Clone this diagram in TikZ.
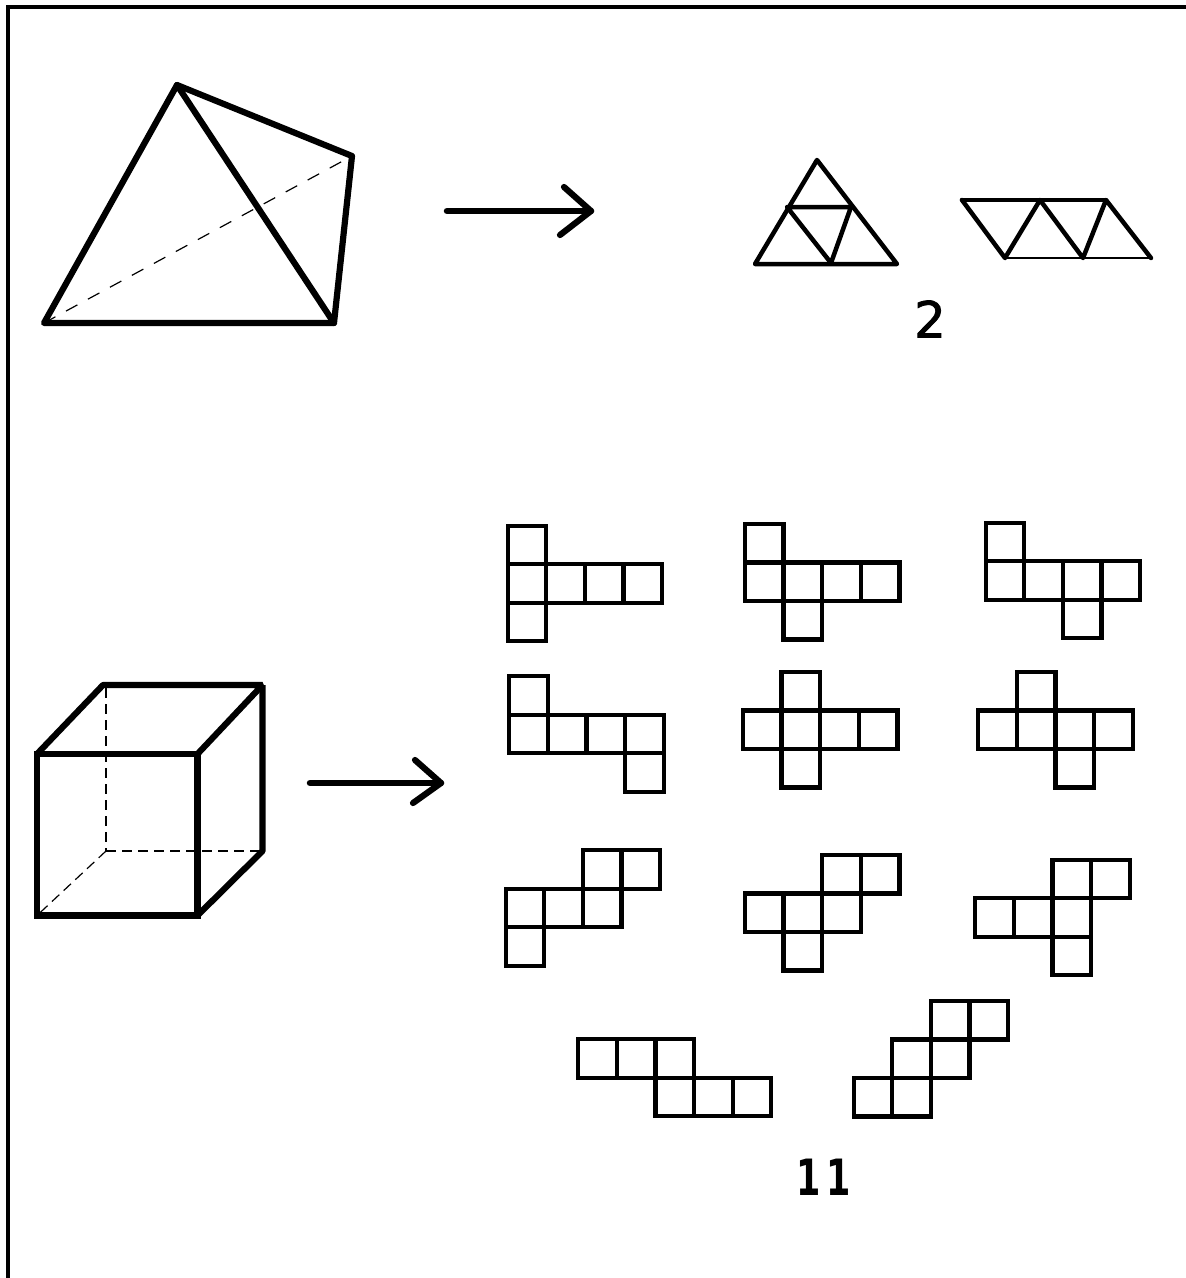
\documentclass[tikz,border=0pt]{standalone}
\usepackage{fontspec}
\setmainfont{DejaVu Sans}
\newfontfamily\heavytwo[FakeBold=1.6]{DejaVu Sans}
\newcommand{\netshape}[3]{%
  \foreach \c/\r in {#3} {
    \draw[netcell] ({#1+\c*38.6},{#2+\r*38.5}) rectangle ++(38.6,38.5);
  }}
\tikzset{
  border/.style={line width=4.4pt,line cap=butt},
  netcell/.style={line width=4.3pt,line join=miter},
  heavy/.style={line width=6.2pt,line cap=round,line join=round},
  medium/.style={line width=4.5pt,line cap=round,line join=round},
  thinbase/.style={line width=2.8pt},
  hidden/.style={line width=1.2pt,dash pattern=on 13pt off 12pt},
  hiddencube/.style={line width=1.2pt,dash pattern=on 10pt off 6pt},
  countbold/.style={font=\fontsize{50}{50}\selectfont\bfseries,inner sep=0pt,xscale=.7},
  countlight/.style={font=\fontsize{50}{50}\heavytwo,inner sep=0pt},
}
\begin{document}
\begin{tikzpicture}[x=1pt,y=-1pt]
\useasboundingbox (0,0) rectangle (1186,1278);
% page frame
\draw[border] (6,7) -- (1186,7);
\draw[border] (8,5) -- (8,1278);
% tetrahedron
\coordinate (tA) at (177,85);
\coordinate (tL) at (44,323);
\coordinate (tR) at (334,323);
\coordinate (tB) at (352,156);
\draw[hidden] (tL) -- (tB);
\draw[heavy] (tL) -- (tA) -- (tB) -- (tR) -- cycle;
\draw[heavy] (tA) -- (tR);
% arrow 1
\coordinate (a1s) at (447,211);
\coordinate (a1t) at (591,211);
\coordinate (a1u) at (564,187);
\coordinate (a1d) at (560,235);
\draw[heavy,line width=6.5pt] (a1s) -- (a1t);
\draw[heavy] (a1u) -- (a1t) -- (a1d);
% tetra net 1
\coordinate (n1) at (817,160);
\coordinate (n2) at (755,264);
\coordinate (n3) at (897,264);
\coordinate (n4) at (787,207);
\coordinate (n5) at (851,207);
\coordinate (n6) at (831,263);
\draw[medium] (n2) -- (n1) -- (n3) -- cycle;
\draw[medium] (n4) -- (n5) -- (n6) -- cycle;
% tetra net 2
\coordinate (p1) at (962,200);
\coordinate (p2) at (1040,200);
\coordinate (p3) at (1106,200);
\coordinate (p4) at (1005,258);
\coordinate (p5) at (1083,258);
\coordinate (p6) at (1151,258);
\draw[medium] (p1) -- (p3);
\draw[thinbase] (p4) -- (p6);
\draw[medium] (p1) -- (p4) -- (p2) -- (p5) -- (p3) -- (p6);
\node[countlight] (two) at (930,319) {2};
% cube
\coordinate (c1) at (37,754);
\coordinate (c2) at (197.5,754);
\coordinate (c3) at (197.5,915.5);
\coordinate (c4) at (37,915.5);
\coordinate (c5) at (103,685);
\coordinate (c6) at (262.5,685);
\coordinate (c7) at (262.5,851);
\coordinate (c8) at (106,851);
\coordinate (c9) at (106,688);
\draw[hiddencube] (c9) -- (c8);
\draw[hiddencube] (c8) -- (c7);
\draw[hiddencube] (c8) -- (c4);
\draw[heavy,line cap=butt,line join=miter] (c1) -- (c2) -- (c3) -- (c4) -- cycle;
\draw[heavy,line cap=butt,line join=bevel] (c1) -- (c5) -- (c6) -- (c2);
\draw[heavy,line cap=butt,line join=bevel] (c6) -- (c7) -- (c3);
% arrow 2
\coordinate (a2s) at (310,783);
\coordinate (a2t) at (441,783);
\coordinate (a2u) at (415,760);
\coordinate (a2d) at (413,803);
\draw[heavy,line width=6.5pt] (a2s) -- (a2t);
\draw[heavy] (a2u) -- (a2t) -- (a2d);
% cube nets
\netshape{507.7}{525.7}{0/0,0/1,1/1,2/1,3/1,0/2}
\netshape{745}{524}{0/0,0/1,1/1,2/1,3/1,1/2}
\netshape{985.7}{522.7}{0/0,0/1,1/1,2/1,3/1,2/2}
\netshape{509.3}{676.3}{0/0,0/1,1/1,2/1,3/1,3/2}
\netshape{743}{672}{1/0,0/1,1/1,2/1,3/1,1/2}
\netshape{978.3}{672}{1/0,0/1,1/1,2/1,3/1,2/2}
\netshape{505.7}{850.3}{2/0,3/0,0/1,1/1,2/1,0/2}
\netshape{745}{855}{2/0,3/0,0/1,1/1,2/1,1/2}
\netshape{975.3}{859.7}{2/0,3/0,0/1,1/1,2/1,2/2}
\netshape{578.3}{1039.3}{0/0,1/0,2/0,2/1,3/1,4/1}
\netshape{853.7}{1001}{2/0,3/0,1/1,2/1,0/2,1/2}
\node[countbold] (eleven) at (823.5,1177) {1\kern8.5pt 1};
\end{tikzpicture}
\end{document}
